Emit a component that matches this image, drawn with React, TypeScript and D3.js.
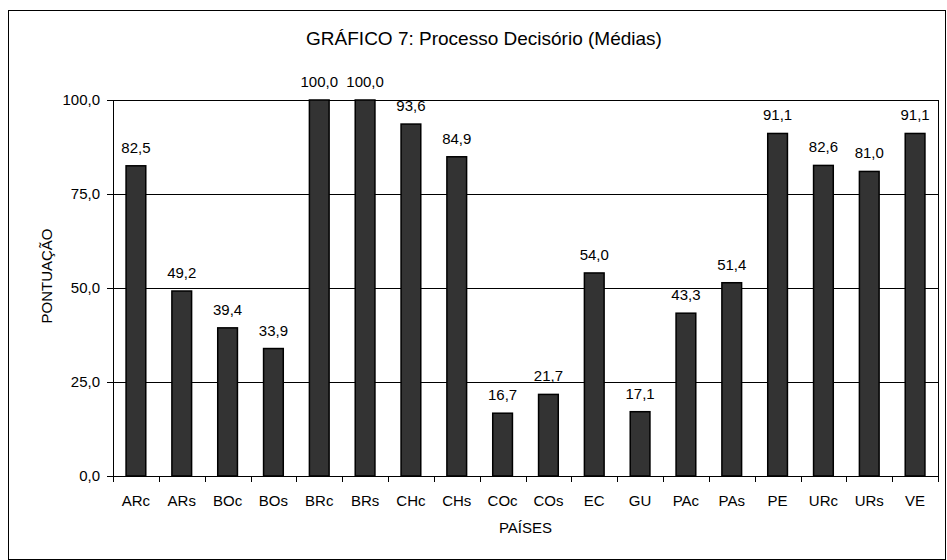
import React from "react";
import * as d3 from "d3";

const categories = ["ARc","ARs","BOc","BOs","BRc","BRs","CHc","CHs","COc","COs","EC","GU","PAc","PAs","PE","URc","URs","VE"];
const values = [82.5,49.2,39.4,33.9,100.0,100.0,93.6,84.9,16.7,21.7,54.0,17.1,43.3,51.4,91.1,82.6,81.0,91.1];
const yTicks = [0,25,50,75,100];
const title = "GRÁFICO 7: Processo Decisório (Médias)";
const xTitle = "PAÍSES";
const yTitle = "PONTUAÇÃO";

const W = 947, H = 560;
const left = 113, right = 938, top = 100, bottom = 476;
const FONT = "'Liberation Sans', Arial, sans-serif";

export default function App() {
  const x = d3.scaleBand<string>().domain(categories).range([left, right]).padding(0);
  const y = d3.scaleLinear().domain([0, 100]).range([bottom, top]);
  const bw = x.bandwidth() * 0.43;
  const fmt = (v: number) => v.toFixed(1).replace(".", ",");
  const boundaries = d3.range(categories.length + 1).map(i => left + i * x.step());

  return (
    <svg width={W} height={H} style={{ position: "absolute", left: 0, top: 0, display: "block" }} fontFamily={FONT}>
      <rect x={0} y={0} width={W} height={H} fill="#fff" />
      <rect x={8.5} y={10.5} width={937} height={549} fill="none" stroke="#000" strokeWidth={1} />
      <text x={484} y={45} textAnchor="middle" fontSize={19} fill="#000">{title}</text>

      {yTicks.map(t => (
        <g key={t}>
          {t > 0 && <line x1={left} x2={right} y1={Math.round(y(t)) + 0.5} y2={Math.round(y(t)) + 0.5} stroke="#000" strokeWidth={1} />}
          <line x1={left - 6} x2={left} y1={Math.round(y(t)) + 0.5} y2={Math.round(y(t)) + 0.5} stroke="#000" strokeWidth={1} />
          <text x={100} y={y(t) + 5} textAnchor="end" fontSize={15} fill="#000">{fmt(t)}</text>
        </g>
      ))}
      <line x1={left + 0.5} x2={left + 0.5} y1={top} y2={bottom + 5} stroke="#000" strokeWidth={1} />
      <line x1={right + 0.5} x2={right + 0.5} y1={top} y2={bottom + 5} stroke="#000" strokeWidth={1} />

      {categories.map((c, i) => {
        const cx = (x(c) as number) + x.bandwidth() / 2;
        const v = values[i];
        return (
          <g key={c}>
            <rect x={cx - bw / 2} y={y(v)} width={bw} height={bottom - y(v)} fill="#333333" stroke="#000" strokeWidth={1.5} />
            <text x={cx} y={y(v) - 13} textAnchor="middle" fontSize={15} fill="#000">{fmt(v)}</text>
            <text x={cx} y={506} textAnchor="middle" fontSize={15} fill="#000">{c}</text>
          </g>
        );
      })}

      <line x1={left} x2={right} y1={bottom + 0.5} y2={bottom + 0.5} stroke="#000" strokeWidth={1} />
      {boundaries.map((b, i) => (
        <line key={i} x1={Math.round(b) + 0.5} x2={Math.round(b) + 0.5} y1={bottom} y2={bottom + 6} stroke="#000" strokeWidth={1} />
      ))}

      <text x={(left + right) / 2} y={533} textAnchor="middle" fontSize={15} fill="#000">{xTitle}</text>
      <text transform={`translate(52, 276) rotate(-90)`} textAnchor="middle" fontSize={15} fill="#000">{yTitle}</text>
    </svg>
  );
}
